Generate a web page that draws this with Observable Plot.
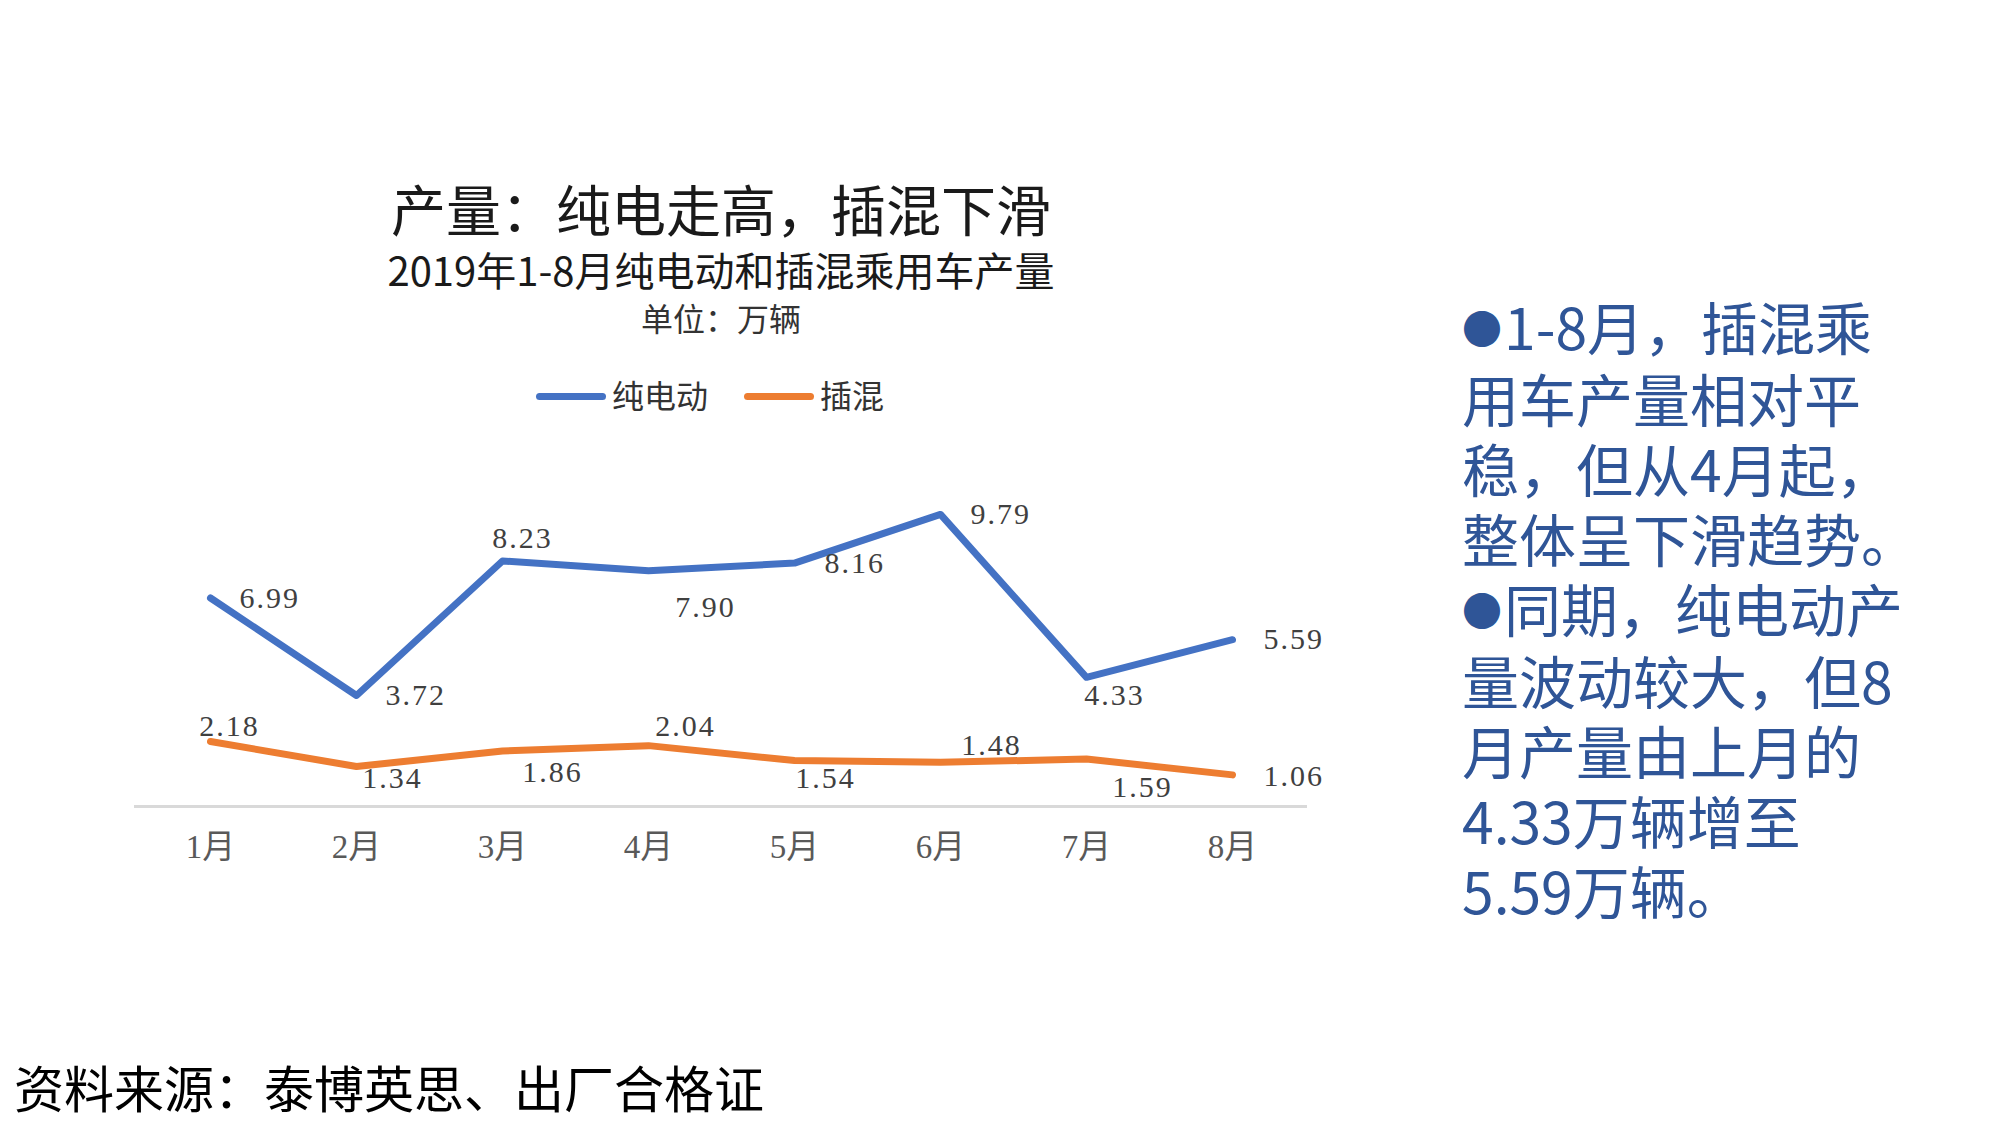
<!DOCTYPE html>
<html><head><meta charset="utf-8">
<script src="https://cdn.jsdelivr.net/npm/d3@7"></script>
<script src="https://cdn.jsdelivr.net/npm/@observablehq/plot@0.6"></script>
<style>
body{margin:0;background:#fff;width:2000px;height:1126px;overflow:hidden;position:relative;font-family:"Noto Sans CJK SC",sans-serif}
.abs{position:absolute;white-space:nowrap;line-height:1}
#title{left:0;width:1442px;top:180px;text-align:center;font-size:55px;color:#1a1a1a}
#sub{left:0;width:1442px;top:249px;text-align:center;font-size:40px;color:#1a1a1a}
#unit{left:0;width:1442px;top:301px;text-align:center;font-size:32px;color:#333}
.leg{top:378px;font-size:32px;color:#333}
.sw{position:absolute;height:7px;border-radius:4px;top:393px}
#note{left:1462px;top:290px;font-size:57px;line-height:70px;color:#2F5597;font-weight:400}
#note .b{font-size:40px;vertical-align:6px;margin-right:2px}
#src{left:14px;top:1061px;font-size:50px;color:#000}
#chart{position:absolute;left:0;top:420px}
#chart g[aria-label="text"] text{letter-spacing:2px}
</style></head><body>
<div id="title" class="abs">产量：纯电走高，插混下滑</div>
<div id="sub" class="abs">2019年1-8月纯电动和插混乘用车产量</div>
<div id="unit" class="abs">单位：万辆</div>
<div id="legend"></div>
<div id="note" class="abs"></div>
<div id="src" class="abs">资料来源：泰博英思、出厂合格证</div>
<div id="chart"></div>
<script>
const months = ["1月","2月","3月","4月","5月","6月","7月","8月"];
const seriesNames = ["纯电动","插混"];
const bev = [6.99,3.72,8.23,7.90,8.16,9.79,4.33,5.59];
const phev = [2.18,1.34,1.86,2.04,1.54,1.48,1.59,1.06];
const colors = ["#4472C4","#ED7D31"];
const noteLines = ["●1-8月，插混乘","用车产量相对平","稳，但从4月起，","整体呈下滑趋势。","●同期，纯电动产","量波动较大，但8","月产量由上月的","4.33万辆增至","5.59万辆。"];

const note = document.getElementById("note");
noteLines.forEach((line, i) => {
  if (i) note.appendChild(document.createElement("br"));
  if (line.startsWith("●")) {
    const b = document.createElement("span"); b.className = "b"; b.textContent = "●";
    note.appendChild(b);
    note.appendChild(document.createTextNode(line.slice(1)));
  } else note.appendChild(document.createTextNode(line));
});

// legend
const legend = document.getElementById("legend");
const legPos = [[536,612],[744,820]];
seriesNames.forEach((n,i)=>{
  const sw = document.createElement("div");
  sw.className="sw"; sw.style.left=legPos[i][0]+"px"; sw.style.width="70px"; sw.style.background=colors[i];
  legend.appendChild(sw);
  const t = document.createElement("div");
  t.className="abs leg"; t.style.left=legPos[i][1]+"px"; t.textContent=n;
  legend.appendChild(t);
});

const rows = [];
[bev, phev].forEach((vals, s) => vals.forEach((v, i) => rows.push({series: seriesNames[s], month: months[i], value: v, idx: i})));

// label placement offsets [dx, dy, anchor]
const place = {
  "纯电动": [[29,0,"start"],[29,0,"start"],[20,-23,"middle"],[57,37,"middle"],[30,0,"start"],[30,0,"start"],[28,18,"middle"],[31,0,"start"]],
  "插混": [[19,-15,"middle"],[36,12,"middle"],[50,21,"middle"],[37,-19,"middle"],[31,18,"middle"],[51,-17,"middle"],[56,28,"middle"],[31,2,"start"]]
};
const fmt = d3.format(".2f");
const labelMarks = rows.map(r => {
  const [dx, dy, anchor] = place[r.series][r.idx];
  return Plot.text([r], {x: "month", y: "value", text: d => fmt(d.value), dx, dy, textAnchor: anchor,
    fontSize: 30, fontFamily: "Liberation Serif, serif", fill: "#404040"});
});

const chart = Plot.plot({
  width: 1400, height: 480,
  marginLeft: 134, marginRight: 93, marginTop: 28, marginBottom: 94,
  x: {type: "point", domain: months, padding: 0.5},
  y: {domain: [0, 12], axis: null},
  marks: [
    Plot.ruleY([0], {stroke: "#d9d9d9", strokeWidth: 3}),
    Plot.axisX({tickSize: 0, tickPadding: 28, fontSize: 33, fill: "#595959", fontFamily: "Liberation Serif, 'Noto Sans CJK SC', serif", label: null}),
    Plot.line(rows, {x: "month", y: "value", z: "series", stroke: "series", strokeWidth: 7, strokeLinecap: "round", strokeLinejoin: "round"}),
    ...labelMarks
  ],
  color: {domain: seriesNames, range: colors}
});
document.getElementById("chart").appendChild(chart);
</script>
</body></html>
